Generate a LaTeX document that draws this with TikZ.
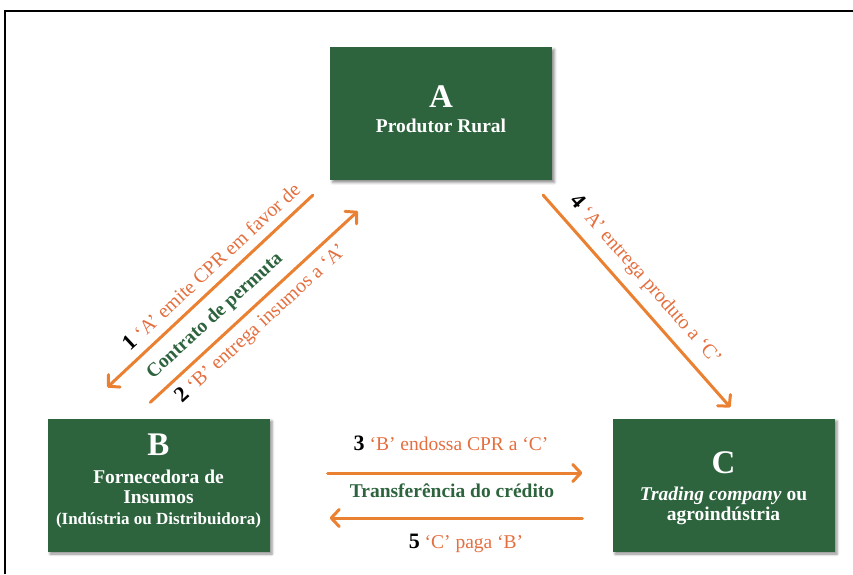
\documentclass[tikz,border=0pt]{standalone}
\usepackage{fontspec}
\setmainfont{Liberation Serif}
\usetikzlibrary{arrows.meta,shadows.blur,calc}

\definecolor{boxgreen}{RGB}{45,100,62}
\definecolor{flow}{RGB}{234,128,50}
\definecolor{flowtext}{RGB}{228,110,62}

% bold black step number in front of each flow label
\newcommand\stepnum[1]{{\color{black}\fontsize{22}{22}\selectfont\bfseries #1}}

\tikzset{
  party/.style={fill=boxgreen, minimum width=222pt, minimum height=133pt, inner sep=0pt,
    blur shadow={shadow xshift=2.5pt, shadow yshift=-2.5pt, shadow blur radius=2.5pt, shadow opacity=45}},
  partyletter/.style={text=white, font=\fontsize{33}{33}\selectfont\bfseries, anchor=base, inner sep=0pt},
  partyline/.style={text=white, font=\fontsize{19.5}{19.5}\selectfont\bfseries, anchor=base, inner sep=0pt},
  flowarrow/.style={draw=flow, line width=3pt, line cap=round,
    -{Straight Barb[length=8pt, width=17pt, round]}},
  flowlabel/.style={text=flowtext, font=\fontsize{19.5}{19.5}\selectfont, inner sep=0pt},
  slantlabel/.style={flowlabel, font=\fontsize{20}{20}\selectfont},
  dealtext/.style={text=boxgreen, font=\fontsize{19.5}{19.5}\selectfont\bfseries, inner sep=0pt}
}

\begin{document}
\begin{tikzpicture}[x=1pt,y=1pt]
\useasboundingbox (0,0) rectangle (853,-574);

% outer frame
\draw[line width=1.5pt] (5,-574) -- (5,-11) -- (853,-11);

% parties
\node[party] (A) at (441,-113.5) {};
\node[party] (B) at (158.5,-485) {};
\node[party] (C) at (723.5,-485) {};

\node[partyletter] (Aletter) at (441,-107) {A};
\node[partyline] (Aname) at (441,-132) {Produtor Rural};

\node[partyletter] (Bletter) at (158.5,-455) {B};
\node[partyline] (Bname1) at (158.5,-483) {Fornecedora de};
\node[partyline] (Bname2) at (158.5,-503) {Insumos};
\node[partyline, font=\fontsize{17}{17}\selectfont\bfseries] (Bname3) at (158.5,-524) {(Indústria ou Distribuidora)};

\node[partyletter] (Cletter) at (723.5,-473) {C};
\node[partyline] (Cname1) at (723.5,-500) {\itshape Trading company\upshape{} ou};
\node[partyline] (Cname2) at (723.5,-520) {agroindústria};

% flows between A and B
\draw[flowarrow] ($(A.south west)+(-17,-15)$) -- ($(B.north west)+(60,31)$);
\draw[flowarrow] ($(B.north west)+(103,16)$) -- ($(A.south west)+(28,-31)$);
\node[slantlabel, rotate=43] (l1) at (211,-266) {\stepnum{1} ‘A’ emite CPR em favor de};
\node[dealtext, rotate=42.5] (deal1) at (215,-316) {Contrato de permuta};
\node[slantlabel, rotate=42.6] (l2) at (261,-324) {\stepnum{2} ‘B’ entrega insumos a ‘A’};

% flow from A to C
\draw[flowarrow] ($(A.south east)+(-9,-15)$) -- ($(C.north west)+(118,11)$);
\node[slantlabel, rotate=-48.6] (l4) at (645,-280) {\stepnum{4} ‘A’ entrega produto a ‘C’};

% flows between B and C
\draw[flowarrow] ($(B.east)+(58,12)$) -- ($(C.west)+(-30,12)$);
\draw[flowarrow] ($(C.west)+(-30,-33)$) -- ($(B.east)+(60,-33)$);
\node[flowlabel, anchor=base] (l3) at (451,-450) {\stepnum{3} ‘B’ endossa CPR a ‘C’};
\node[dealtext, anchor=base] (deal2) at (452,-497) {Transferência do crédito};
\node[flowlabel, anchor=base] (l5) at (466,-548) {\stepnum{5} ‘C’ paga ‘B’};
\end{tikzpicture}
\end{document}
